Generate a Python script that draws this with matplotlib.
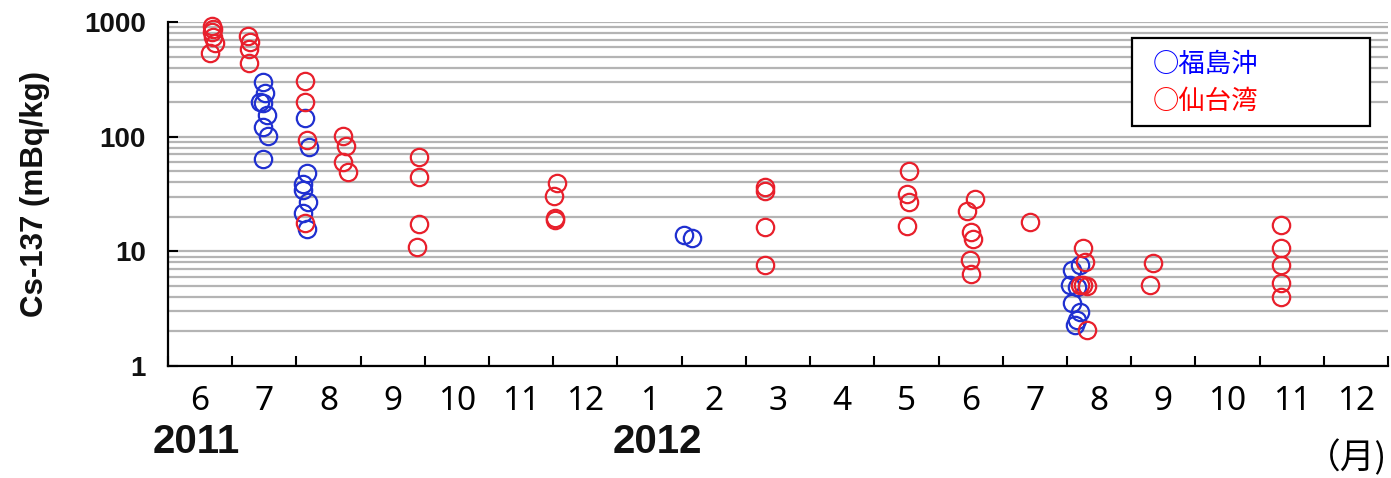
import matplotlib
matplotlib.use("Agg")
import matplotlib.pyplot as plt
from matplotlib.patches import Rectangle
from matplotlib.ticker import FixedLocator, NullFormatter, LogLocator

# x = months since 1 June 2011 (0 = start of June 2011, 19 = end of Dec 2012)
fukushima_x = [1.48, 1.51, 1.43, 1.48, 1.54, 1.48, 1.56, 1.48,
               2.13, 2.20, 2.17, 2.10, 2.10, 2.18, 2.10, 2.17,
               8.04, 8.16,
               14.08, 14.21, 14.05, 14.16, 14.08, 14.21, 14.16, 14.13]
fukushima_y = [299, 240, 200, 196, 154, 121, 101, 64,
               145, 81, 48, 39, 34, 27, 21.6, 15.6,
               13.9, 13.1,
               6.87, 7.6, 5.08, 4.9, 3.54, 2.96, 2.52, 2.28]

sendai_x = [0.69, 0.69, 0.70, 0.73, 0.65, 0.70,
            1.25, 1.28, 1.26, 1.26,
            2.13, 2.13, 2.17, 2.13,
            2.73, 2.77, 2.73, 2.80,
            3.91, 3.91, 3.91, 3.88,
            6.06, 6.01, 6.03, 6.03,
            9.30, 9.30, 9.30, 9.30,
            11.54, 11.51, 11.54, 11.51,
            12.57, 12.45, 12.51, 12.54, 12.49, 12.51,
            13.43,
            14.25, 14.28, 14.25, 14.31, 14.21, 14.31,
            15.34, 15.30,
            17.34, 17.34, 17.34, 17.34, 17.34]
sendai_y = [920, 820, 740, 655, 540, 860,
            750, 670, 580, 440,
            305, 200, 93, 17.7,
            101, 83, 60, 49,
            66, 44.5, 17.3, 10.9,
            39.4, 30.5, 19.5, 18.7,
            36.4, 33.6, 16.3, 7.6,
            50, 31.6, 26.9, 16.6,
            28.6, 22.4, 14.7, 12.8, 8.4, 6.3,
            18.0,
            10.7, 8.1, 5.08, 5.0, 5.1, 2.06,
            7.9, 5.08,
            17, 10.7, 7.6, 5.3, 4.0]

month_labels = ["6", "7", "8", "9", "10", "11", "12",
                "1", "2", "3", "4", "5", "6", "7", "8", "9", "10", "11", "12"]
year_labels = ["2011", "2012"]
legend_labels = ["○福島沖", "○仙台湾"]

plt.rcParams["font.family"] = ["Liberation Sans", "DejaVu Sans"]
cjk = ["Noto Sans CJK JP", "DejaVu Sans"]

fig = plt.figure(figsize=(13.91, 4.78), dpi=100)
ax = fig.add_axes([0.1208, 0.2343, 0.877, 0.7197])

blue = "#2030d0"
red = "#e8202c"
ax.plot(fukushima_x, fukushima_y, "o", ls="none", mfc="none", mec=blue,
        ms=12.5, mew=1.6, zorder=3, clip_on=False)
ax.plot(sendai_x, sendai_y, "o", ls="none", mfc="none", mec=red,
        ms=12.5, mew=1.6, zorder=4, clip_on=False)

ax.set_yscale("log")
ax.set_ylim(1, 1000)
ax.set_xlim(0, 19)

# y axis
ax.yaxis.set_major_locator(FixedLocator([1, 10, 100, 1000]))
ax.set_yticklabels(["1", "10", "100", "1000"], fontweight="bold")
ax.yaxis.set_minor_locator(LogLocator(base=10, subs=range(2, 10)))
ax.yaxis.set_minor_formatter(NullFormatter())
ax.tick_params(axis="y", which="major", direction="in", length=7, width=1.5,
               labelsize=20, pad=16, labelcolor="#111111")
ax.tick_params(axis="y", which="minor", length=0)
ax.yaxis.grid(True, which="both", color="#b4b4b4", lw=1.6)
ax.set_axisbelow(True)

# x axis: ticks at month boundaries, labels at month centres
ax.xaxis.set_major_locator(FixedLocator(range(0, 20)))
ax.xaxis.set_major_formatter(NullFormatter())
ax.xaxis.set_minor_locator(FixedLocator([i + 0.5 for i in range(19)]))
ax.set_xticklabels(month_labels, minor=True, family="Noto Sans")
ax.tick_params(axis="x", which="major", direction="in", length=7, width=1.5)
ax.tick_params(axis="x", which="minor", length=0, labelsize=24, pad=14)

ax.set_ylabel("Cs-137 (mBq/kg)", fontsize=22.5, fontweight="bold",
              color="#111111")
ax.yaxis.set_label_coords(-0.097, 0.5)

for s in ["top", "right"]:
    ax.spines[s].set_visible(False)
for s in ["left", "bottom"]:
    ax.spines[s].set_linewidth(1.6)
    ax.spines[s].set_zorder(5)

# year labels and unit
fig.text(196 / 1391, 1 - 442 / 478, year_labels[0], ha="center", va="center",
         fontsize=29, fontweight="bold", color="#111111")
fig.text(657 / 1391, 1 - 442 / 478, year_labels[1], ha="center", va="center",
         fontsize=29, fontweight="bold", color="#111111")
fig.text(1387 / 1391, 1 - 458 / 478, "（月)", ha="right", va="center",
         fontsize=25, family=cjk)

# legend box
box = Rectangle((1132 / 1391, 1 - 126 / 478), 238 / 1391, 88 / 478,
                transform=fig.transFigure, facecolor="white", edgecolor="black",
                lw=1.6, zorder=10)
fig.patches.append(box)
fig.text(1153 / 1391, 1 - 64 / 478, legend_labels[0], color="#0000ff",
         ha="left", va="center", fontsize=19, zorder=11, family=cjk)
fig.text(1153 / 1391, 1 - 101 / 478, legend_labels[1], color="#ff0000",
         ha="left", va="center", fontsize=19, zorder=11, family=cjk)

fig.savefig("out.png", dpi=100)
